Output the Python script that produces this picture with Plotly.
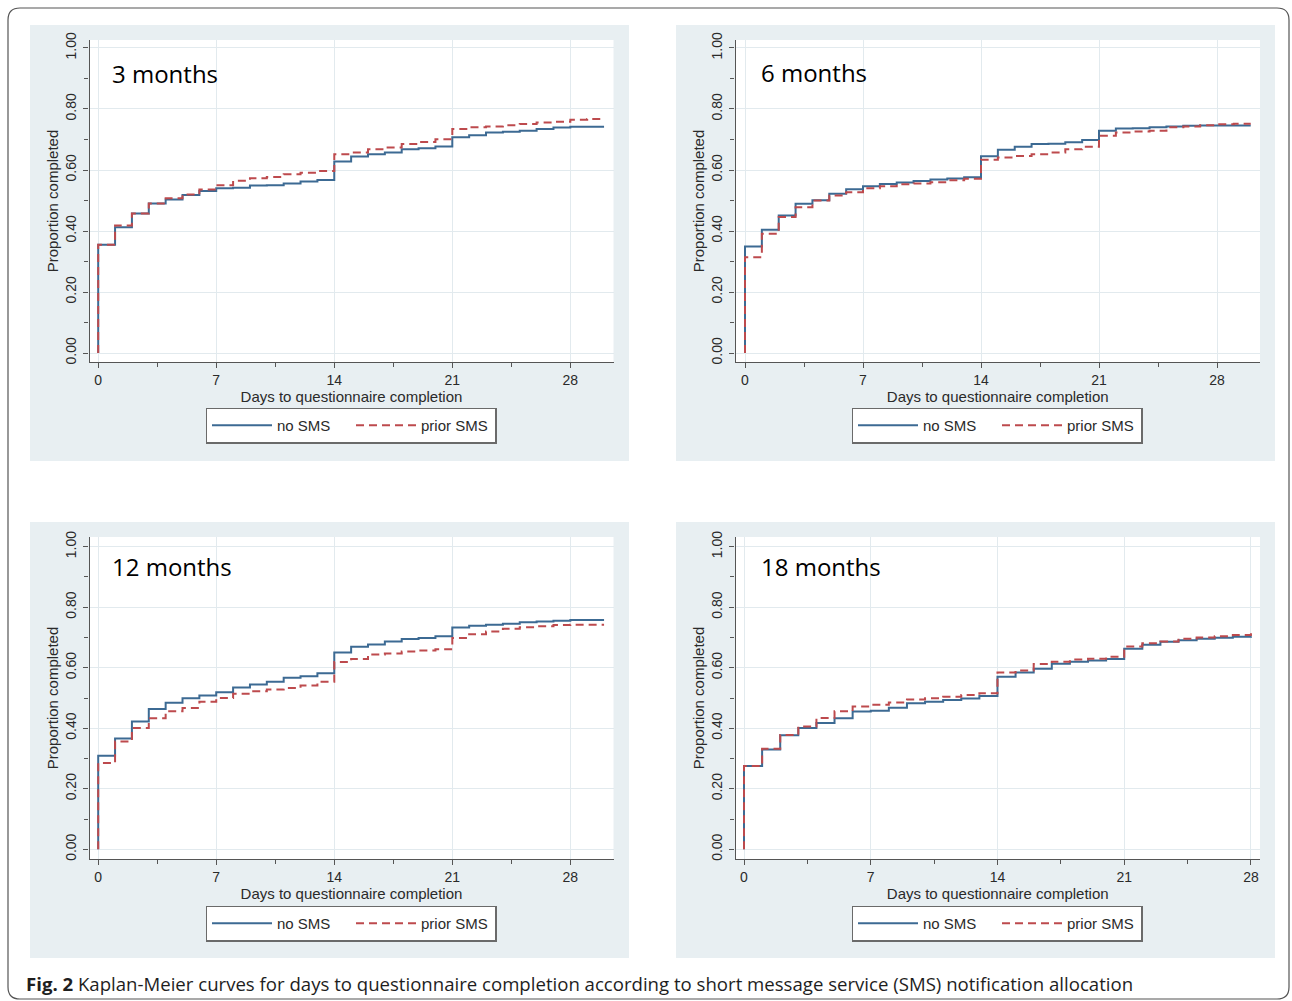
import plotly.graph_objects as go

W, H = 1292, 1001

# ---------------- data ----------------
panel_titles = ["3 months", "6 months", "12 months", "18 months"]
series_names = ["no SMS", "prior SMS"]
x_tick_vals = [0, 7, 14, 21, 28]
x_axis_label = "Days to questionnaire completion"
y_axis_label = "Proportion completed"
caption_bold = "Fig. 2"
caption_text = ("Kaplan-Meier curves for days to questionnaire completion according to "
                "short message service (SMS) notification allocation")

days_to30 = list(range(30))      # event days, panels 3/6/12 months
days_to28 = list(range(29))      # event days, 18 months panel
follow_up_end = [30, 30, 30, 28]

m3_no_sms = [0.355, 0.412, 0.457, 0.490, 0.503, 0.518, 0.531, 0.540, 0.542, 0.549,
             0.550, 0.556, 0.562, 0.567, 0.628, 0.644, 0.652, 0.657, 0.668, 0.671,
             0.677, 0.707, 0.714, 0.723, 0.725, 0.729, 0.734, 0.739, 0.742, 0.742]
m3_prior_sms = [0.355, 0.418, 0.457, 0.490, 0.507, 0.520, 0.536, 0.550, 0.565, 0.573,
                0.577, 0.586, 0.591, 0.597, 0.652, 0.657, 0.668, 0.674, 0.685, 0.692,
                0.701, 0.734, 0.740, 0.743, 0.747, 0.751, 0.756, 0.758, 0.765, 0.767]

m6_no_sms = [0.349, 0.404, 0.451, 0.489, 0.501, 0.522, 0.537, 0.547, 0.554, 0.559,
             0.564, 0.569, 0.572, 0.576, 0.645, 0.666, 0.676, 0.685, 0.686, 0.691,
             0.698, 0.729, 0.736, 0.737, 0.740, 0.743, 0.745, 0.746, 0.746, 0.746]
m6_prior_sms = [0.314, 0.391, 0.446, 0.478, 0.500, 0.516, 0.527, 0.540, 0.547, 0.553,
                0.556, 0.560, 0.566, 0.571, 0.634, 0.641, 0.646, 0.652, 0.657, 0.668,
                0.676, 0.712, 0.723, 0.726, 0.729, 0.740, 0.743, 0.747, 0.750, 0.752]

m12_no_sms = [0.309, 0.366, 0.422, 0.464, 0.484, 0.499, 0.508, 0.519, 0.535, 0.545,
              0.554, 0.567, 0.572, 0.582, 0.650, 0.669, 0.677, 0.687, 0.695, 0.698,
              0.704, 0.733, 0.739, 0.742, 0.745, 0.750, 0.753, 0.755, 0.758, 0.758]
m12_prior_sms = [0.285, 0.356, 0.401, 0.433, 0.456, 0.467, 0.488, 0.500, 0.514, 0.522,
                 0.528, 0.533, 0.541, 0.554, 0.619, 0.629, 0.644, 0.647, 0.654, 0.657,
                 0.661, 0.698, 0.711, 0.720, 0.729, 0.734, 0.737, 0.741, 0.742, 0.742]

m18_no_sms = [0.275, 0.330, 0.377, 0.401, 0.417, 0.433, 0.455, 0.458, 0.468, 0.483,
              0.488, 0.493, 0.498, 0.507, 0.570, 0.584, 0.597, 0.613, 0.620, 0.624,
              0.629, 0.663, 0.676, 0.686, 0.691, 0.696, 0.699, 0.702, 0.704]
m18_prior_sms = [0.275, 0.332, 0.378, 0.406, 0.434, 0.456, 0.472, 0.478, 0.485, 0.495,
                 0.499, 0.504, 0.510, 0.516, 0.584, 0.591, 0.612, 0.620, 0.627, 0.630,
                 0.636, 0.670, 0.681, 0.687, 0.696, 0.700, 0.704, 0.708, 0.714]

panel_days = [days_to30, days_to30, days_to30, days_to28]
panel_series = [(m3_no_sms, m3_prior_sms), (m6_no_sms, m6_prior_sms),
                (m12_no_sms, m12_prior_sms), (m18_no_sms, m18_prior_sms)]

# ---------------- layout geometry (pixels) ----------------
plot_px = [((89.5, 613.5), (40, 362)), ((735.5, 1260), (40, 362)),
           ((89.5, 613.5), (537, 859)), ((735.5, 1260), (537, 859))]
bg_px = [(30, 25, 629, 461), (676, 25, 1275, 461),
         (30, 522, 629, 958), (676, 522, 1275, 958)]
x_ranges = [[-0.516, 30.56], [-0.564, 30.55], [-0.516, 30.56], [-0.47, 28.5]]
y_ranges = [[-0.0295, 1.0262], [-0.0295, 1.0262], [-0.032, 1.032], [-0.032, 1.032]]
legend_px = [(351, 425.5), (997, 425.5), (351, 923.5), (997, 923.5)]
title_px = [(110, 74), (759, 73), (110, 566), (759, 566)]

BLUE = "#3c6a93"
RED = "#bd4a4d"
PANEL_BG = "#e8eff2"
GRID = "#e2eaee"
AXIS = "#555555"
TXT = "#2a2a2a"
SANS = "Liberation Sans, Arial, sans-serif"


def px_x(v):
    return v / W


def px_y(v):
    return 1 - v / H


fig = go.Figure()
shapes = []
annotations = []
layout = {}

for i in range(4):
    n = "" if i == 0 else str(i + 1)
    xa, ya = "x" + n, "y" + n
    leg = "legend" + n
    days = panel_days[i]
    for s, (vals, color, dash) in enumerate(zip(panel_series[i], [BLUE, RED], ["solid", "8px,5px"])):
        xs = [0] + days + [follow_up_end[i]]
        ys = [0] + vals + [vals[-1]]
        fig.add_trace(go.Scatter(
            x=xs, y=ys, mode="lines", line=dict(color=color, width=2, dash=dash, shape="hv"),
            name=series_names[s], xaxis=xa, yaxis=ya, legend=leg, showlegend=True,
            hoverinfo="skip"))

    (x0, x1), (y0, y1) = plot_px[i]
    layout["xaxis" + n] = dict(
        domain=[px_x(x0), px_x(x1)], anchor=ya, range=x_ranges[i],
        tickvals=x_tick_vals, ticks="outside", ticklen=5, tickwidth=1, tickcolor=AXIS,
        showline=True, linecolor=AXIS, linewidth=1.3, showgrid=True, gridcolor=GRID,
        gridwidth=1.2, zeroline=False, tickfont=dict(family=SANS, size=14, color=TXT),
        minor=dict(tick0=3.5, dtick=7, ticks="outside", ticklen=4, tickcolor=AXIS, showgrid=False),
        title=dict(text=x_axis_label, font=dict(family=SANS, size=15, color=TXT), standoff=0),
        fixedrange=True)
    layout["yaxis" + n] = dict(
        domain=[px_y(y1), px_y(y0)], anchor=xa, range=y_ranges[i],
        tickvals=[0, 0.2, 0.4, 0.6, 0.8, 1.0], tickformat=".2f", tickangle=-90,
        ticks="outside", ticklen=5, tickwidth=1, tickcolor=AXIS,
        showline=True, linecolor=AXIS, linewidth=1.3, showgrid=True, gridcolor=GRID,
        gridwidth=1.2, zeroline=False, tickfont=dict(family=SANS, size=14, color=TXT),
        ticklabelstandoff=2,
        minor=dict(tick0=0.1, dtick=0.2, ticks="outside", ticklen=4, tickcolor=AXIS, showgrid=False),
        title=dict(text=y_axis_label, font=dict(family=SANS, size=15, color=TXT), standoff=0),
        fixedrange=True)

    bx0, by0, bx1, by1 = bg_px[i]
    shapes.append(dict(type="rect", xref="paper", yref="paper", layer="below",
                       x0=px_x(bx0), x1=px_x(bx1), y0=px_y(by1), y1=px_y(by0),
                       fillcolor=PANEL_BG, line=dict(width=0)))
    shapes.append(dict(type="rect", xref=xa + " domain", yref=ya + " domain", layer="below",
                       x0=0, x1=1, y0=0, y1=1, fillcolor="white", line=dict(width=0)))

    lx, ly = legend_px[i]
    layout[leg] = dict(
        orientation="h", x=px_x(lx), y=px_y(ly), xanchor="center", yanchor="middle",
        bgcolor="white", bordercolor="#6a6a6a", borderwidth=1.5,
        font=dict(family=SANS, size=15, color=TXT), itemwidth=60,
        entrywidth=69, entrywidthmode="pixels",
        itemclick=False, itemdoubleclick=False)

    tx, ty = title_px[i]
    annotations.append(dict(text=panel_titles[i], xref="paper", yref="paper",
                            x=px_x(tx), y=px_y(ty), xanchor="left", yanchor="middle",
                            showarrow=False, font=dict(family="Open Sans, sans-serif", size=24, color="black")))

annotations.append(dict(text="<b>" + caption_bold + "</b> " + caption_text, xref="paper", yref="paper",
                        x=px_x(24), y=px_y(983), xanchor="left", yanchor="middle", showarrow=False,
                        font=dict(family="Open Sans, sans-serif", size=18.6, color="#1e1e1e")))

# outer rounded frame
r = 12
fx0, fy0, fx1, fy1 = 8, 8, 1289, 999
path = (f"M {px_x(fx0 + r)},{px_y(fy0)} L {px_x(fx1 - r)},{px_y(fy0)} "
        f"Q {px_x(fx1)},{px_y(fy0)} {px_x(fx1)},{px_y(fy0 + r)} "
        f"L {px_x(fx1)},{px_y(fy1 - r)} Q {px_x(fx1)},{px_y(fy1)} {px_x(fx1 - r)},{px_y(fy1)} "
        f"L {px_x(fx0 + r)},{px_y(fy1)} Q {px_x(fx0)},{px_y(fy1)} {px_x(fx0)},{px_y(fy1 - r)} "
        f"L {px_x(fx0)},{px_y(fy0 + r)} Q {px_x(fx0)},{px_y(fy0)} {px_x(fx0 + r)},{px_y(fy0)} Z")
shapes.append(dict(type="path", xref="paper", yref="paper", path=path, layer="below",
                   line=dict(color="#555555", width=1.2)))

fig.update_layout(
    width=W, height=H, margin=dict(l=0, r=0, t=0, b=0, autoexpand=False),
    paper_bgcolor="white", plot_bgcolor="white", shapes=shapes, annotations=annotations,
    hovermode=False, **layout)

fig.write_html("out.html", config={"displayModeBar": False},
               post_script="document.body.style.margin='0';document.body.style.overflow='hidden';")
